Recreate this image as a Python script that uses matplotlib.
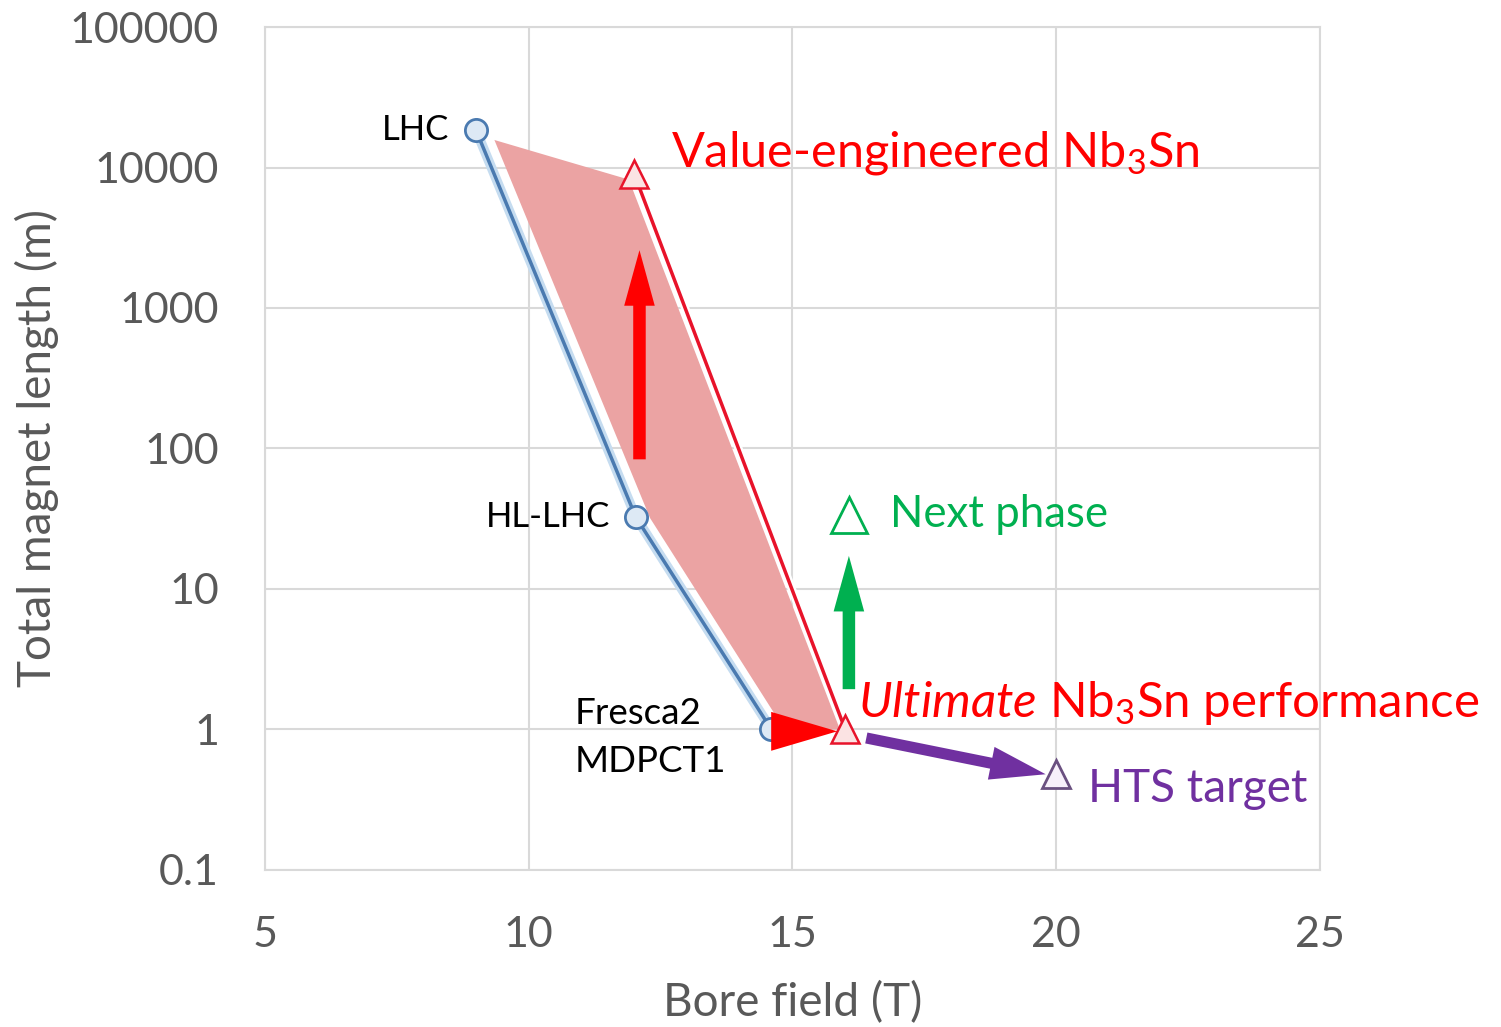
import matplotlib.pyplot as plt
from matplotlib.ticker import FixedLocator, FixedFormatter

plt.rcParams['font.family'] = ['Lato', 'DejaVu Sans']
plt.rcParams['mathtext.fontset'] = 'custom'
plt.rcParams['mathtext.rm'] = 'Lato'
plt.rcParams['mathtext.it'] = 'Lato:italic'

# measured magnets (blue) and Nb3Sn targets (triangles)
magnet_names = ["LHC", "HL-LHC", "Fresca2\nMDPCT1"]
magnet_field = [9.0, 12.03, 14.6]
magnet_length = [18500, 32.5, 1.0]

nb3sn_field = [12.0, 16.0]
nb3sn_length = [9000, 1.0]

next_field = [16.07]
next_length = [33.5]

hts_field = [20.0]
hts_length = [0.48]

# shaded region between the two curves
fill_x = [9.35, 11.9, 15.9, 14.85, 12.3, 9.35]
fill_y = [15700, 8200, 1.0, 1.0, 32, 15700]

x_ticks = [5, 10, 15, 20, 25]
y_ticks = [0.1, 1, 10, 100, 1000, 10000, 100000]
y_labels = ["0.1", "1", "10", "100", "1000", "10000", "100000"]

blue = '#4a7ab0'
red = '#ff0000'
green = '#00b050'
purple = '#7030a0'
gray = '#595959'

fig = plt.figure(figsize=(15.01, 10.27), dpi=100)
ax = fig.add_axes([0.1765, 0.1529, 0.7029, 0.8208])
ax.set_yscale('log')
ax.set_xlim(5, 25)
ax.set_ylim(0.1, 100000)

ax.fill(fill_x, fill_y, color='#eba3a3', lw=0, zorder=1)

ax.plot(magnet_field, magnet_length, color='#c5dcf0', lw=7, zorder=2)
ax.plot(magnet_field, magnet_length, color=blue, lw=2.5, marker='o', ms=16,
        mfc='#dde9f5', mec=blue, mew=2, zorder=3)
ax.plot(nb3sn_field, nb3sn_length, color='white', lw=6, zorder=2)
ax.plot(nb3sn_field, nb3sn_length, color='#e8132a', lw=2.5, marker='^', ms=20,
        mfc='#fbe3e3', mec='#e8132a', mew=1.8, zorder=3)
ax.plot(next_field, next_length, ls='none', marker='^', ms=26,
        mfc='white', mec=green, mew=2, zorder=3)
ax.plot(hts_field, hts_length, ls='none', marker='^', ms=20,
        mfc='#f7f0fa', mec='#6a5080', mew=2, zorder=3)

# arrows
ax.annotate('', xy=(12.1, 2700), xytext=(12.1, 80),
            arrowprops=dict(arrowstyle='simple,head_width=1.1,head_length=2,tail_width=0.45',
                            color=red, lw=0, mutation_scale=20), zorder=4)
ax.annotate('', xy=(16.07, 18), xytext=(16.07, 1.85),
            arrowprops=dict(arrowstyle='simple,head_width=1.1,head_length=2,tail_width=0.45',
                            color=green, lw=0, mutation_scale=20), zorder=4)
ax.annotate('', xy=(15.85, 0.97), xytext=(14.95, 0.97),
            arrowprops=dict(arrowstyle='simple,head_width=1.0,head_length=1.7,tail_width=0.01',
                            color=red, lw=0, mutation_scale=28, shrinkA=0, shrinkB=0), zorder=4)
ax.annotate('', xy=(19.8, 0.48), xytext=(16.4, 0.87),
            arrowprops=dict(arrowstyle='simple,head_width=1.2,head_length=2,tail_width=0.4',
                            color=purple, lw=0, mutation_scale=20, shrinkA=0, shrinkB=0), zorder=4)

# labels
ax.text(8.5, magnet_length[0], magnet_names[0], fontsize=25, ha='right', va='center')
ax.text(11.55, magnet_length[1], magnet_names[1], fontsize=25, ha='right', va='center')
ax.text(10.88, 0.88, magnet_names[2], fontsize=26.5, ha='left', va='center',
        linespacing=1.55)
ax.text(12.7, 12700, 'Value-engineered Nb$_3$Sn', fontsize=35, color=red,
        ha='left', va='center')
ax.text(16.85, 34, 'Next phase', fontsize=31.5, color=green, ha='left', va='center')
ax.text(16.25, 1.55, r'$\it{Ultimate}$ Nb$_3$Sn performance', fontsize=35.5, color=red,
        ha='left', va='center')
ax.text(20.6, 0.38, 'HTS target', fontsize=33, color=purple, ha='left', va='center')

ax.xaxis.set_major_locator(FixedLocator(x_ticks))
ax.yaxis.set_major_locator(FixedLocator(y_ticks))
ax.yaxis.set_major_formatter(FixedFormatter(y_labels))
ax.yaxis.set_minor_locator(FixedLocator([]))
ax.tick_params(axis='both', length=0, labelsize=31, labelcolor=gray)
ax.tick_params(axis='x', pad=33)
ax.tick_params(axis='y', pad=33)
ax.grid(True, color='#d9d9d9', lw=1.5)
for s in ax.spines.values():
    s.set_color('#d9d9d9')
    s.set_linewidth(1.5)
ax.set_axisbelow(True)

ax.set_xlabel('Bore field (T)', fontsize=33, color=gray, labelpad=20)
ax.set_ylabel('Total magnet length (m)', fontsize=33, color=gray, labelpad=8)

fig.savefig('out.png', dpi=100)
